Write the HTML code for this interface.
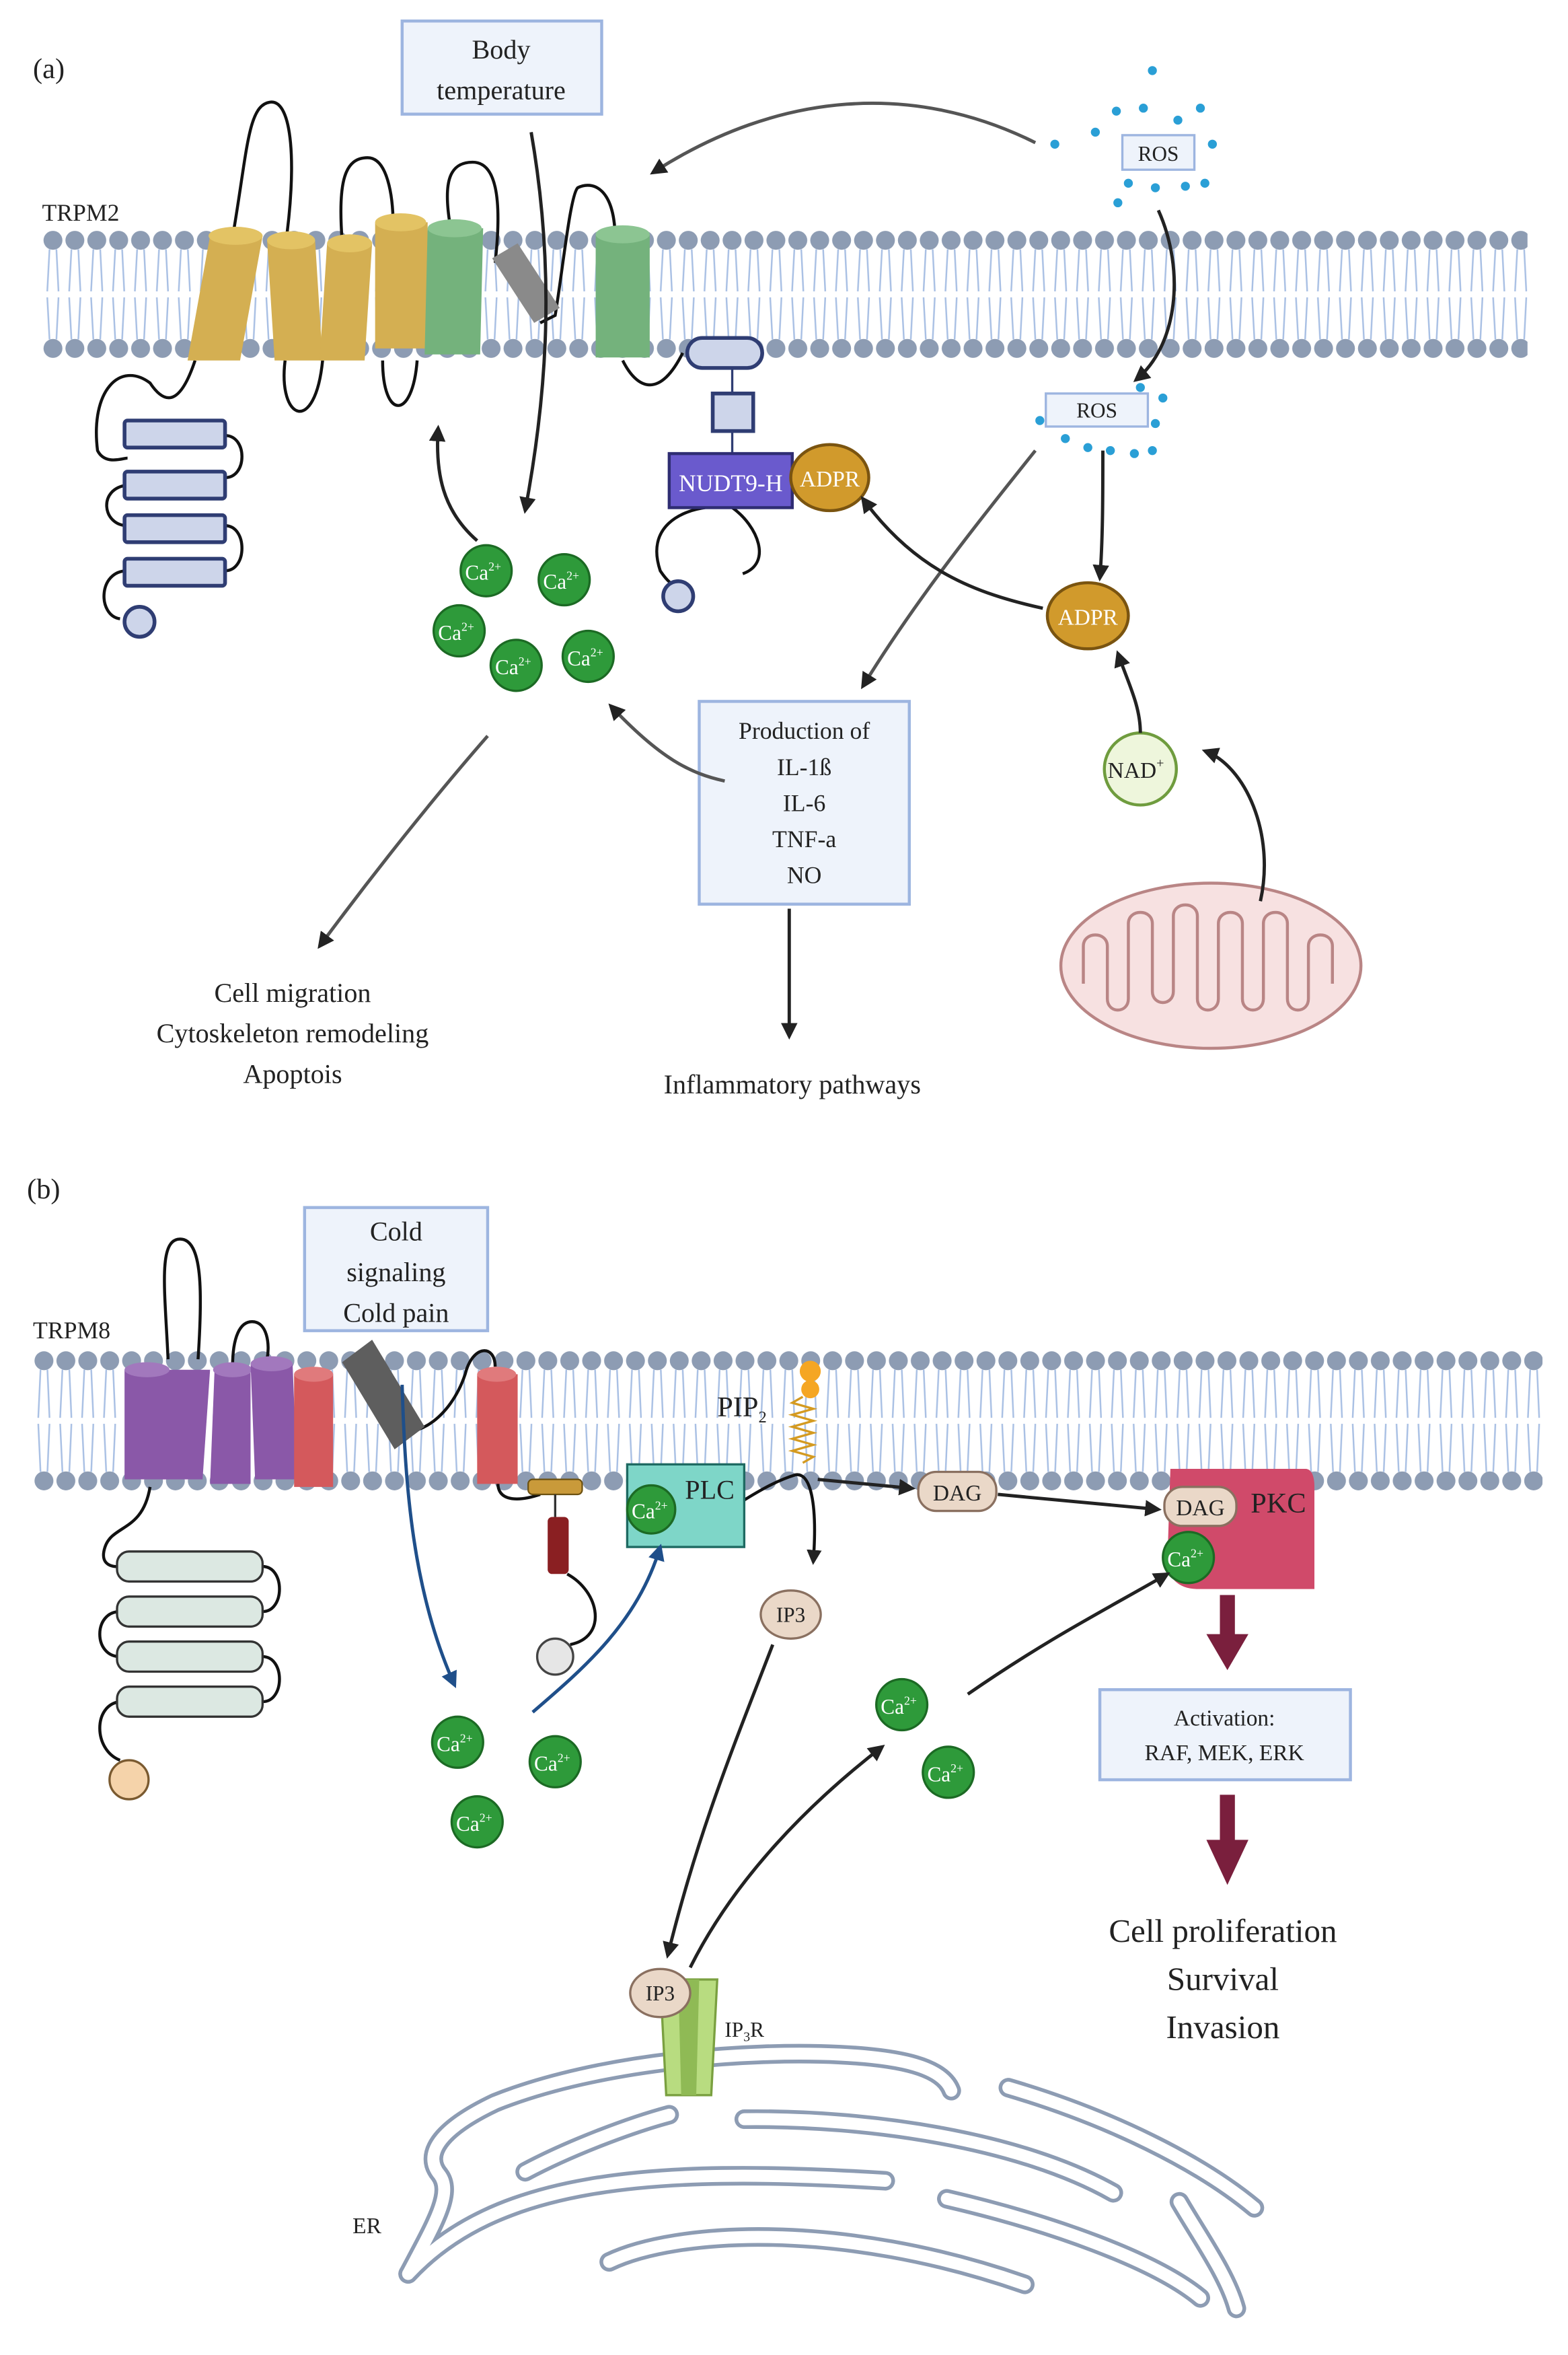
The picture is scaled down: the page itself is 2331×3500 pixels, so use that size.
<!DOCTYPE html>
<html><head><meta charset="utf-8"><style>
html,body{margin:0;padding:0;background:#fff}
svg{display:block}
text{font-family:"Liberation Serif",serif;fill:#222}
</style></head><body>
<svg width="2331" height="3500" viewBox="0 0 1045 1568" preserveAspectRatio="none" xmlns="http://www.w3.org/2000/svg">
<defs>
<pattern id="memA" x="28" y="0" width="14.6" height="1568" patternUnits="userSpaceOnUse">
<circle cx="7.3" cy="160" r="6.3" fill="#8d9cb3"/><circle cx="7.3" cy="232" r="6.3" fill="#8d9cb3"/>
<path d="M5 166 L3.5 194 M9.6 166 L11 194 M3.5 198 L5 226 M11 198 L9.6 226" stroke="#a9c0e4" stroke-width="1.1" fill="none"/>
</pattern>
<pattern id="memB" x="22" y="0" width="14.6" height="1568" patternUnits="userSpaceOnUse">
<circle cx="7.3" cy="906" r="6.3" fill="#8d9cb3"/><circle cx="7.3" cy="986" r="6.3" fill="#8d9cb3"/>
<path d="M5 912 L3.5 944 M9.6 912 L11 944 M3.5 948 L5 980 M11 948 L9.6 980" stroke="#a9c0e4" stroke-width="1.1" fill="none"/>
</pattern>
<marker id="ar" viewBox="0 0 10 10" refX="8" refY="5" markerWidth="5" markerHeight="5" orient="auto"><path d="M0 0 L10 5 L0 10 Z" fill="#222"/></marker>
<marker id="arB" viewBox="0 0 10 10" refX="8" refY="5" markerWidth="5" markerHeight="5" orient="auto"><path d="M0 0 L10 5 L0 10 Z" fill="#1f4f8a"/></marker>
</defs>
<rect width="1045" height="1568" fill="#fff"/>

<!-- PANEL A -->
<text x="22" y="52" font-size="19">(a)</text>
<rect x="268" y="14" width="133" height="62" fill="#eef3fb" stroke="#9db5e0" stroke-width="2"/>
<text x="334" y="39" font-size="18" text-anchor="middle">Body</text>
<text x="334" y="66" font-size="18" text-anchor="middle">temperature</text>
<text x="28" y="147" font-size="16">TRPM2</text>
<rect x="28" y="150" width="990" height="92" fill="url(#memA)"/>

<g fill="none" stroke="#111" stroke-width="2">
<path d="M155 158 C165 100 165 70 180 68 C195 66 198 110 190 165"/>
<path d="M228 160 C225 120 230 105 245 105 C258 105 262 130 262 150"/>
<path d="M300 150 C295 120 300 108 315 108 C330 108 335 130 330 175"/>
<path d="M360 215 L370 210 C375 180 380 130 385 125 C395 120 410 125 410 160"/>
<path d="M130 240 C120 270 110 270 100 255 C80 240 60 260 65 300 C70 310 82 305 85 305"/>
<path d="M150 290 C165 290 165 318 150 318 M85 323 C65 325 68 350 85 350 M150 350 C165 350 165 380 150 380 M85 380 C65 380 65 410 80 412"/>
<path d="M190 240 C185 280 210 290 215 240"/>
<path d="M255 240 C255 280 275 280 278 240"/>
<path d="M415 240 C425 260 440 265 455 235"/>
<path d="M470 338 C455 340 430 350 440 380 C448 392 452 390 452 388 M488 338 C505 350 515 375 495 382"/>
</g>
<g>
<path d="M140 157 L175 157 L160 240 L125 240 Z" fill="#d4af52"/><ellipse cx="157" cy="157" rx="18" ry="6" fill="#e3c364"/>
<path d="M178 160 L210 160 L215 240 L183 240 Z" fill="#d4af52"/><ellipse cx="194" cy="160" rx="16" ry="6" fill="#e3c364"/>
<path d="M218 162 L248 162 L243 240 L213 240 Z" fill="#d4af52"/><ellipse cx="233" cy="162" rx="15" ry="6" fill="#e3c364"/>
<path d="M250 148 L285 148 L285 232 L250 232 Z" fill="#d4af52"/><ellipse cx="267" cy="148" rx="17" ry="6" fill="#e3c364"/>
<path d="M285 152 L322 152 L320 236 L283 236 Z" fill="#74b27c"/><ellipse cx="303" cy="152" rx="18" ry="6" fill="#8cc592"/>
<path d="M328 172 L345 162 L373 205 L356 215 Z" fill="#8a8a8a"/>
<path d="M397 156 L433 156 L433 238 L397 238 Z" fill="#74b27c"/><ellipse cx="415" cy="156" rx="18" ry="6" fill="#8cc592"/>
</g>
<g fill="#cdd5ea" stroke="#2f3d73" stroke-width="2.5">
<rect x="83" y="280" width="67" height="18" rx="2"/><rect x="83" y="314" width="67" height="18" rx="2"/>
<rect x="83" y="343" width="67" height="18" rx="2"/><rect x="83" y="372" width="67" height="18" rx="2"/>
<circle cx="93" cy="414" r="10"/>
<rect x="458" y="225" width="50" height="20" rx="10"/>
<rect x="475" y="262" width="27" height="25"/>
<circle cx="452" cy="397" r="10"/>
</g>
<line x1="488" y1="245" x2="488" y2="262" stroke="#2f3d73" stroke-width="1.5"/>
<line x1="488" y1="287" x2="488" y2="302" stroke="#2f3d73" stroke-width="1.5"/>
<rect x="446" y="302" width="82" height="36" fill="#6a5acd" stroke="#2f2d73" stroke-width="2"/>
<text x="487" y="327" font-size="16" text-anchor="middle" style="fill:#fff">NUDT9-H</text>
<ellipse cx="553" cy="318" rx="26" ry="22" fill="#d19a2c" stroke="#7a5410" stroke-width="2"/>
<text x="553" y="324" font-size="15" text-anchor="middle" style="fill:#fff">ADPR</text>

<rect x="748" y="90" width="48" height="23" fill="#eef3fb" stroke="#9db5e0" stroke-width="1.5"/>
<text x="772" y="107" font-size="14" text-anchor="middle">ROS</text>
<g fill="#2a9fd6">
<circle cx="768" cy="47" r="3"/><circle cx="744" cy="74" r="3"/><circle cx="762" cy="72" r="3"/><circle cx="785" cy="80" r="3"/><circle cx="800" cy="72" r="3"/><circle cx="808" cy="96" r="3"/><circle cx="703" cy="96" r="3"/><circle cx="730" cy="88" r="3"/><circle cx="752" cy="122" r="3"/><circle cx="770" cy="125" r="3"/><circle cx="790" cy="124" r="3"/><circle cx="803" cy="122" r="3"/><circle cx="745" cy="135" r="3"/>
<circle cx="710" cy="292" r="3"/><circle cx="725" cy="298" r="3"/><circle cx="740" cy="300" r="3"/><circle cx="756" cy="302" r="3"/><circle cx="768" cy="300" r="3"/><circle cx="770" cy="282" r="3"/><circle cx="693" cy="280" r="3"/><circle cx="760" cy="258" r="3"/><circle cx="775" cy="265" r="3"/>
</g>
<rect x="697" y="262" width="68" height="22" fill="#eef3fb" stroke="#9db5e0" stroke-width="1.5"/>
<text x="731" y="278" font-size="14" text-anchor="middle">ROS</text>

<ellipse cx="725" cy="410" rx="27" ry="22" fill="#d19a2c" stroke="#7a5410" stroke-width="2"/>
<text x="725" y="416" font-size="15" text-anchor="middle" style="fill:#fff">ADPR</text>
<circle cx="760" cy="512" r="24" fill="#eef6dc" stroke="#6f9c3e" stroke-width="2"/>
<text x="757" y="518" font-size="15" text-anchor="middle">NAD<tspan font-size="9" dy="-7">+</tspan></text>

<ellipse cx="807" cy="643" rx="100" ry="55" fill="#f7e1e1" stroke="#b98585" stroke-width="2"/>
<path d="M722 655 L722 630 C722 620 738 620 738 630 L738 665 C738 675 752 675 752 665 L752 615 C752 605 768 605 768 615 L768 660 C768 670 782 670 782 660 L782 610 C782 600 798 600 798 610 L798 665 C798 675 812 675 812 665 L812 615 C812 605 828 605 828 615 L828 665 C828 675 842 675 842 665 L842 615 C842 605 858 605 858 615 L858 665 C858 675 872 675 872 665 L872 630 C872 620 888 620 888 630 L888 655" fill="none" stroke="#b98585" stroke-width="2"/>

<g fill="#2e9a3a" stroke="#1c6a24" stroke-width="1.5">
<circle cx="324" cy="380" r="17"/><circle cx="376" cy="386" r="17"/><circle cx="306" cy="420" r="17"/><circle cx="344" cy="443" r="17"/><circle cx="392" cy="437" r="17"/>
</g>
<g font-size="14" text-anchor="middle">
<text x="322" y="386" style="fill:#fff">Ca<tspan font-size="8" dy="-6">2+</tspan></text>
<text x="374" y="392" style="fill:#fff">Ca<tspan font-size="8" dy="-6">2+</tspan></text>
<text x="304" y="426" style="fill:#fff">Ca<tspan font-size="8" dy="-6">2+</tspan></text>
<text x="342" y="449" style="fill:#fff">Ca<tspan font-size="8" dy="-6">2+</tspan></text>
<text x="390" y="443" style="fill:#fff">Ca<tspan font-size="8" dy="-6">2+</tspan></text>
</g>

<rect x="466" y="467" width="140" height="135" fill="#eef3fb" stroke="#9db5e0" stroke-width="2"/>
<g font-size="16" text-anchor="middle">
<text x="536" y="492">Production of</text><text x="536" y="516">IL-1ß</text><text x="536" y="540">IL-6</text><text x="536" y="564">TNF-a</text><text x="536" y="588">NO</text>
</g>
<g font-size="18" text-anchor="middle">
<text x="195" y="667">Cell migration</text><text x="195" y="694">Cytoskeleton remodeling</text><text x="195" y="721">Apoptois</text>
<text x="528" y="728">Inflammatory pathways</text>
</g>

<g fill="none" stroke="#222" stroke-width="2.2" marker-end="url(#ar)">
<path d="M690 95 C610 55 520 60 435 115" stroke="#555"/>
<path d="M354 88 C370 180 365 260 350 340"/>
<path d="M318 360 C295 340 290 315 292 285"/>
<path d="M772 140 C790 180 785 230 757 253"/>
<path d="M690 300 C650 350 610 400 575 457" stroke="#555"/>
<path d="M735 300 C735 330 735 360 733 385"/>
<path d="M695 405 C650 395 610 380 575 332"/>
<path d="M760 488 C760 470 752 455 745 435"/>
<path d="M840 600 C850 555 830 510 803 500"/>
<path d="M483 520 C460 515 440 505 407 470" stroke="#555"/>
<path d="M325 490 C290 530 250 580 213 630" stroke="#555"/>
<path d="M526 605 L526 690"/>
</g>

<!-- PANEL B -->
<text x="18" y="798" font-size="19">(b)</text>
<rect x="203" y="804" width="122" height="82" fill="#eef3fb" stroke="#9db5e0" stroke-width="2"/>
<g font-size="18" text-anchor="middle"><text x="264" y="826">Cold</text><text x="264" y="853">signaling</text><text x="264" y="880">Cold pain</text></g>
<text x="22" y="891" font-size="16">TRPM8</text>
<rect x="22" y="896" width="1006" height="98" fill="url(#memB)"/>

<g fill="none" stroke="#111" stroke-width="2">
<path d="M112 905 C110 860 105 825 120 825 C135 825 135 860 132 905"/>
<path d="M155 910 C155 890 160 880 168 880 C178 880 180 895 178 905"/>
<path d="M262 950 C275 960 300 945 310 915 C315 895 330 895 330 910"/>
<path d="M100 990 C95 1020 75 1015 70 1030 C65 1045 80 1043 80 1043 M175 1043 C190 1043 190 1073 175 1073 M80 1073 C62 1073 62 1103 80 1103 M175 1103 C190 1103 190 1133 175 1133 M80 1133 C62 1135 62 1165 80 1172"/>
<path d="M332 985 C330 1000 345 1000 360 995"/>
<path d="M378 1048 C400 1060 405 1090 380 1095"/>
<path d="M494 1000 C510 990 520 985 530 982 C540 980 545 1000 542 1040" marker-end="url(#ar)"/>
</g>
<g>
<path d="M83 912 L113 912 L113 985 L83 985 Z" fill="#8a58a8"/><ellipse cx="98" cy="912" rx="15" ry="5" fill="#a278bd"/>
<path d="M113 912 L140 912 L135 985 L108 985 Z" fill="#8a58a8"/>
<path d="M143 912 L167 912 L167 988 L140 988 Z" fill="#8a58a8"/><ellipse cx="155" cy="912" rx="13" ry="5" fill="#a278bd"/>
<path d="M167 908 L195 908 L198 985 L170 985 Z" fill="#8a58a8"/><ellipse cx="181" cy="908" rx="14" ry="5" fill="#a278bd"/>
<path d="M196 915 L222 915 L222 990 L196 990 Z" fill="#d4595c"/><ellipse cx="209" cy="915" rx="13" ry="5" fill="#e07a7c"/>
<path d="M228 907 L248 892 L283 950 L263 965 Z" fill="#5e5e5e"/>
<path d="M318 915 L345 915 L345 988 L318 988 Z" fill="#d4595c"/><ellipse cx="331" cy="915" rx="13" ry="5" fill="#e07a7c"/>
</g>
<g fill="#dce8e2" stroke="#333" stroke-width="1.5">
<rect x="78" y="1033" width="97" height="20" rx="8"/><rect x="78" y="1063" width="97" height="20" rx="8"/>
<rect x="78" y="1093" width="97" height="20" rx="8"/><rect x="78" y="1123" width="97" height="20" rx="8"/>
</g>
<circle cx="86" cy="1185" r="13" fill="#f5d3aa" stroke="#7a5a30" stroke-width="1.5"/>
<rect x="352" y="985" width="36" height="10" rx="3" fill="#c99a3a" stroke="#6b5010"/>
<line x1="370" y1="995" x2="370" y2="1010" stroke="#333" stroke-width="1.5"/>
<rect x="365" y="1010" width="14" height="38" rx="3" fill="#8a1f22"/>
<circle cx="370" cy="1103" r="12" fill="#e6e6e6" stroke="#444" stroke-width="1.5"/>

<rect x="418" y="975" width="78" height="55" fill="#7ed6c8" stroke="#1e6a62" stroke-width="1.5"/>
<text x="473" y="998" font-size="18" text-anchor="middle">PLC</text>
<circle cx="434" cy="1005" r="16" fill="#2e9a3a" stroke="#1c6a24" stroke-width="1.5"/>
<text x="433" y="1011" font-size="14" text-anchor="middle" style="fill:#fff">Ca<tspan font-size="8" dy="-6">2+</tspan></text>
<text x="478" y="943" font-size="19">PIP<tspan font-size="11" dy="4">2</tspan></text>
<path d="M535 930 l-7 4 l14 4 l-14 4 l14 4 l-14 4 l14 4 l-14 4 l14 4 l-14 4 l14 4 l-7 4" fill="none" stroke="#d49a20" stroke-width="1.5"/>
<circle cx="540" cy="913" r="7" fill="#f5a623"/><circle cx="540" cy="925" r="6" fill="#f5a623"/>

<rect x="612" y="980" width="52" height="26" rx="12" fill="#ead8c8" stroke="#8a7060" stroke-width="1.5"/>
<text x="638" y="999" font-size="15" text-anchor="middle">DAG</text>
<path d="M780 978 L870 978 C875 978 876 985 876 990 L876 1058 L798 1058 C785 1058 778 1050 778 1040 Z" fill="#d04a6a"/>
<text x="852" y="1007" font-size="19" text-anchor="middle">PKC</text>
<rect x="776" y="990" width="48" height="26" rx="12" fill="#ead8c8" stroke="#8a7060" stroke-width="1.5"/>
<text x="800" y="1009" font-size="15" text-anchor="middle">DAG</text>
<circle cx="792" cy="1037" r="17" fill="#2e9a3a" stroke="#1c6a24" stroke-width="1.5"/>
<text x="790" y="1043" font-size="14" text-anchor="middle" style="fill:#fff">Ca<tspan font-size="8" dy="-6">2+</tspan></text>

<path d="M813 1062 L823 1062 L823 1088 L832 1088 L818 1112 L804 1088 L813 1088 Z" fill="#7a1f3d"/>
<rect x="733" y="1125" width="167" height="60" fill="#eef3fb" stroke="#9db5e0" stroke-width="2"/>
<text x="816" y="1149" font-size="15" text-anchor="middle">Activation:</text>
<text x="816" y="1172" font-size="15" text-anchor="middle">RAF, MEK, ERK</text>
<path d="M813 1195 L823 1195 L823 1225 L832 1225 L818 1255 L804 1225 L813 1225 Z" fill="#7a1f3d"/>
<g font-size="22" text-anchor="middle"><text x="815" y="1293">Cell proliferation</text><text x="815" y="1325">Survival</text><text x="815" y="1357">Invasion</text></g>

<ellipse cx="527" cy="1075" rx="20" ry="16" fill="#ead8c8" stroke="#8a7060" stroke-width="1.5"/>
<text x="527" y="1080" font-size="14" text-anchor="middle">IP3</text>

<g fill="#2e9a3a" stroke="#1c6a24" stroke-width="1.5">
<circle cx="601" cy="1135" r="17"/><circle cx="632" cy="1180" r="17"/>
<circle cx="305" cy="1160" r="17"/><circle cx="370" cy="1173" r="17"/><circle cx="318" cy="1213" r="17"/>
</g>
<text x="599" y="1141" font-size="14" text-anchor="middle" style="fill:#fff">Ca<tspan font-size="8" dy="-6">2+</tspan></text>
<text x="630" y="1186" font-size="14" text-anchor="middle" style="fill:#fff">Ca<tspan font-size="8" dy="-6">2+</tspan></text>
<text x="303" y="1166" font-size="14" text-anchor="middle" style="fill:#fff">Ca<tspan font-size="8" dy="-6">2+</tspan></text>
<text x="368" y="1179" font-size="14" text-anchor="middle" style="fill:#fff">Ca<tspan font-size="8" dy="-6">2+</tspan></text>
<text x="316" y="1219" font-size="14" text-anchor="middle" style="fill:#fff">Ca<tspan font-size="8" dy="-6">2+</tspan></text>

<!-- ER -->
<g fill="none" stroke-linecap="round">
<g stroke="#8d9cb3" stroke-width="13">
<path d="M272 1514 C290 1480 302 1460 293 1448 C282 1435 292 1418 330 1400 C400 1372 500 1365 560 1368 C600 1370 628 1376 634 1392"/>
<path d="M496 1411 C580 1410 680 1425 742 1460"/>
<path d="M672 1390 C740 1410 800 1440 836 1470"/>
<path d="M786 1466 C800 1490 818 1515 824 1537"/>
<path d="M350 1446 C380 1430 420 1415 446 1408"/>
<path d="M272 1514 C330 1452 430 1442 590 1452"/>
<path d="M406 1506 C450 1485 560 1478 683 1521"/>
<path d="M631 1464 C700 1480 770 1505 800 1530"/>
</g>
<g stroke="#fff" stroke-width="8">
<path d="M272 1514 C290 1480 302 1460 293 1448 C282 1435 292 1418 330 1400 C400 1372 500 1365 560 1368 C600 1370 628 1376 634 1392"/>
<path d="M496 1411 C580 1410 680 1425 742 1460"/>
<path d="M672 1390 C740 1410 800 1440 836 1470"/>
<path d="M786 1466 C800 1490 818 1515 824 1537"/>
<path d="M350 1446 C380 1430 420 1415 446 1408"/>
<path d="M272 1514 C330 1452 430 1442 590 1452"/>
<path d="M406 1506 C450 1485 560 1478 683 1521"/>
<path d="M631 1464 C700 1480 770 1505 800 1530"/>
</g>
</g>
<text x="235" y="1487" font-size="15">ER</text>

<path d="M440 1318 L478 1318 L474 1395 L444 1395 Z" fill="#b8dc80" stroke="#7aa040" stroke-width="1.5"/>
<path d="M452 1318 L466 1318 L464 1395 L454 1395 Z" fill="#8fba55"/>
<ellipse cx="440" cy="1327" rx="20" ry="16" fill="#ead8c8" stroke="#8a7060" stroke-width="1.5"/>
<text x="440" y="1332" font-size="14" text-anchor="middle">IP3</text>
<text x="483" y="1356" font-size="14">IP<tspan font-size="9" dy="3">3</tspan><tspan dy="-3">R</tspan></text>

<g fill="none" stroke-width="2.2">
<path d="M268 922 C270 990 275 1060 303 1122" stroke="#1f4f8a" marker-end="url(#arB)"/>
<path d="M355 1140 C390 1110 425 1080 440 1030" stroke="#1f4f8a" marker-end="url(#arB)"/>
<g stroke="#222" marker-end="url(#ar)">
<path d="M545 985 L608 991"/>
<path d="M665 995 L772 1005"/>
<path d="M645 1128 C700 1090 740 1070 778 1048"/>
<path d="M515 1095 C490 1160 465 1220 445 1302"/>
<path d="M460 1310 C490 1250 540 1200 588 1163"/>
</g>
</g>
</svg>
</body></html>
